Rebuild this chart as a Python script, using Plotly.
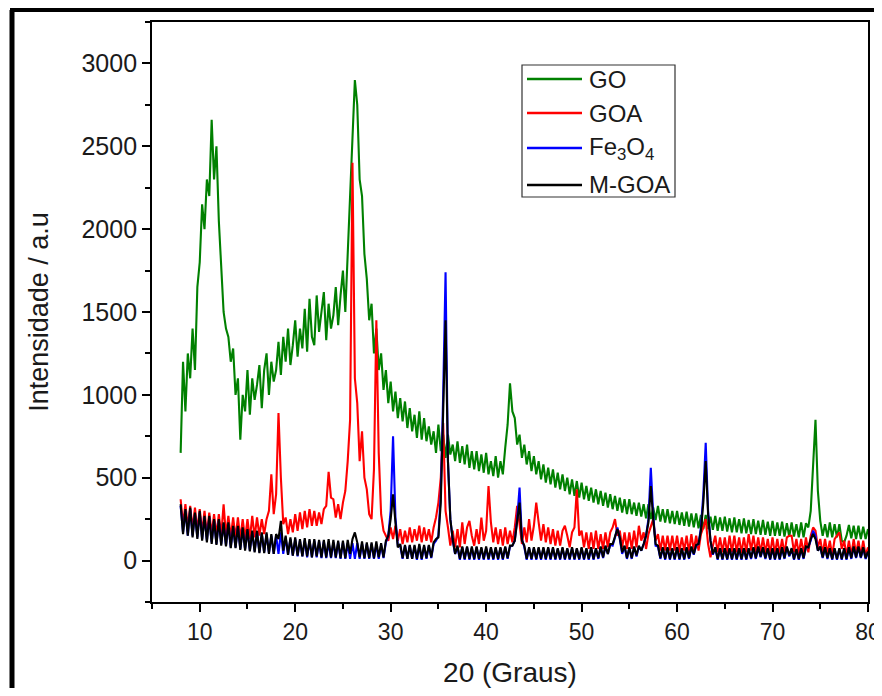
import plotly.graph_objects as go

# 2-theta grid: 8.00 .. 80.00 deg, step 0.25 deg
theta_start = 8.0
theta_step = 0.25

# Intensities (one row per degree: .00 .25 .50 .75)
go_vals = [
    650, 1200, 900, 1250,
    1100, 1400, 1150, 1650,
    1800, 2150, 2000, 2300,
    2200, 2660, 2300, 2500,
    2050, 1800, 1500, 1400,
    1350, 1200, 1280, 1000,
    1100, 730, 1000, 900,
    1150, 880, 1100, 970,
    1060, 1180, 920, 1150,
    1250, 1000, 1200, 1080,
    1150, 1320, 1120, 1350,
    1200, 1400, 1180, 1300,
    1450, 1230, 1400, 1280,
    1520, 1260, 1580, 1350,
    1300, 1600, 1380, 1500,
    1620, 1330, 1550, 1400,
    1480, 1650, 1420, 1600,
    1750, 1500, 1900, 2200,
    2550, 2900, 2750, 2300,
    2200, 1850, 1700, 1450,
    1550, 1250, 1400, 1150,
    1250, 1030, 1150, 950,
    1080, 900, 1020, 860,
    980, 840, 960, 800,
    920, 780, 880, 740,
    900, 730, 860, 720,
    810, 700, 780, 650,
    820, 660, 760, 620,
    760, 640, 700, 600,
    720, 590, 690, 580,
    700, 560, 660, 550,
    660, 540, 640, 530,
    650, 520, 600, 510,
    630, 500, 600, 520,
    680, 820, 1070, 900,
    860, 700, 760, 620,
    700, 580, 660, 540,
    630, 520, 600, 490,
    580, 470, 560, 460,
    550, 440, 530, 430,
    520, 420, 500, 400,
    490, 390, 480, 380,
    470, 370, 450, 360,
    440, 350, 430, 340,
    420, 330, 410, 320,
    400, 310, 390, 300,
    380, 290, 370, 280,
    370, 280, 350, 270,
    350, 265, 340, 255,
    340, 250, 320, 245,
    330, 235, 310, 230,
    310, 225, 300, 220,
    300, 215, 290, 210,
    295, 205, 285, 200,
    285, 195, 275, 190,
    275, 190, 265, 185,
    270, 180, 260, 180,
    265, 175, 255, 170,
    260, 170, 250, 165,
    255, 165, 245, 160,
    250, 160, 240, 155,
    245, 155, 235, 150,
    240, 150, 230, 150,
    235, 145, 225, 145,
    230, 145, 220, 140,
    230, 140, 225, 200,
    300, 560, 850, 420,
    240, 150, 220, 140,
    230, 140, 220, 140,
    220, 120, 110, 150,
    215, 135, 210, 130,
    210, 130, 205, 130,
    190,
]

goa_vals = [
    370, 220, 340, 200,
    330, 190, 320, 180,
    310, 170, 300, 160,
    290, 160, 280, 150,
    280, 150, 340, 150,
    270, 140, 260, 135,
    260, 130, 250, 130,
    250, 130, 270, 140,
    260, 150, 250, 160,
    250, 300, 520, 280,
    400, 890, 500, 220,
    260, 160, 250, 170,
    280, 180, 290, 190,
    300, 200, 310, 210,
    300, 210, 290, 220,
    310, 330, 535, 380,
    370, 260, 340, 250,
    350, 420, 600, 850,
    2400, 1100, 950, 600,
    780, 500, 430, 280,
    250, 550, 1450, 650,
    280, 180, 150, 120,
    200, 130, 210, 120,
    190, 100, 180, 110,
    200, 110, 190, 120,
    210, 110, 200, 120,
    190, 110, 200, 260,
    350, 500, 830, 300,
    200, 90, 180, 80,
    190, 80, 230, 100,
    200, 240, 150, 90,
    190, 100, 260, 120,
    180, 450, 230, 110,
    200, 100, 190, 90,
    200, 100, 180, 110,
    200, 330, 220, 100,
    200, 110, 250, 120,
    210, 350, 230, 120,
    220, 110, 200, 100,
    190, 90, 180, 90,
    180, 210, 150, 80,
    170, 200, 430, 150,
    180, 80, 170, 70,
    170, 70, 180, 70,
    160, 70, 170, 80,
    170, 200, 250, 150,
    180, 80, 170, 70,
    170, 70, 180, 80,
    210, 120, 170, 70,
    160, 200, 250, 120,
    160, 60, 150, 60,
    150, 60, 150, 60,
    150, 50, 140, 60,
    150, 50, 160, 60,
    150, 60, 160, 200,
    250, 100, 20, 90,
    150, 50, 140, 50,
    140, 45, 150, 50,
    150, 50, 140, 45,
    140, 50, 160, 60,
    150, 50, 140, 45,
    140, 45, 130, 40,
    140, 40, 130, 40,
    130, 40, 140, 150,
    150, 50, 130, 40,
    130, 40, 140, 50,
    150, 200, 180, 80,
    130, 40, 130, 40,
    120, 30, 130, 150,
    170, 70, 120, 30,
    120, 30, 130, 40,
    120, 30, 120, 30,
    80,
]

fe3o4_vals = [
    330, 170, 300, 150,
    310, 150, 280, 140,
    290, 130, 260, 120,
    260, 110, 240, 100,
    240, 100, 220, 90,
    220, 80, 200, 80,
    200, 70, 190, 70,
    180, 60, 170, 55,
    170, 50, 160, 50,
    160, 45, 150, 40,
    150, 40, 170, 40,
    140, 35, 130, 30,
    130, 25, 120, 25,
    125, 20, 120, 20,
    120, 20, 115, 15,
    115, 15, 110, 15,
    110, 15, 110, 10,
    110, 10, 105, 10,
    105, 10, 105, 10,
    100, 10, 100, 10,
    100, 10, 95, 10,
    95, 15, 110, 150,
    300, 750, 260, 90,
    90, 10, 90, 10,
    90, 10, 85, 5,
    90, 5, 85, 10,
    90, 15, 100, 120,
    150, 400, 1000, 1740,
    600, 250, 120, 40,
    80, 5, 80, 5,
    80, 5, 75, 5,
    80, 5, 75, 5,
    75, 5, 75, 5,
    75, 5, 75, 5,
    80, 10, 85, 90,
    120, 250, 440, 130,
    80, 5, 75, 5,
    75, 5, 75, 5,
    75, 5, 75, 5,
    75, 5, 70, 5,
    75, 5, 70, 5,
    75, 5, 70, 5,
    75, 5, 70, 5,
    75, 5, 70, 10,
    80, 15, 85, 40,
    95, 90, 140, 200,
    130, 40, 85, 10,
    75, 10, 80, 25,
    85, 60, 100, 150,
    250, 560, 280, 90,
    85, 10, 75, 5,
    75, 5, 70, 5,
    75, 5, 70, 5,
    75, 10, 80, 35,
    90, 100, 200, 400,
    710, 300, 120, 35,
    75, 5, 70, 5,
    70, 5, 70, 5,
    70, 5, 70, 5,
    70, 5, 70, 10,
    75, 10, 80, 20,
    75, 10, 70, 5,
    70, 5, 70, 5,
    75, 10, 80, 25,
    70, 5, 65, 5,
    70, 10, 80, 80,
    120, 180, 150, 60,
    80, 15, 75, 10,
    70, 5, 70, 5,
    70, 5, 70, 5,
    75, 10, 80, 15,
    80, 15, 75, 10,
    50,
]

mgoa_vals = [
    340, 160, 310, 150,
    320, 140, 290, 130,
    300, 120, 270, 110,
    270, 100, 250, 95,
    250, 90, 230, 85,
    230, 75, 210, 75,
    210, 65, 200, 60,
    190, 55, 180, 50,
    180, 45, 170, 45,
    170, 40, 160, 40,
    160, 130, 240, 60,
    150, 35, 140, 30,
    140, 30, 130, 25,
    135, 25, 130, 20,
    130, 25, 125, 20,
    125, 20, 130, 20,
    125, 20, 120, 15,
    120, 15, 125, 40,
    130, 170, 110, 20,
    115, 15, 110, 15,
    110, 15, 115, 20,
    105, 20, 120, 150,
    250, 400, 230, 80,
    100, 15, 95, 10,
    95, 10, 95, 10,
    100, 10, 95, 15,
    95, 20, 110, 130,
    140, 350, 900, 1450,
    600, 250, 130, 40,
    90, 10, 85, 10,
    85, 10, 85, 10,
    85, 10, 80, 10,
    85, 10, 80, 10,
    80, 10, 80, 10,
    85, 15, 90, 90,
    120, 220, 350, 120,
    90, 10, 80, 10,
    80, 10, 80, 10,
    80, 10, 80, 10,
    80, 10, 75, 10,
    80, 10, 75, 10,
    80, 10, 75, 10,
    80, 10, 75, 10,
    80, 10, 75, 15,
    85, 20, 90, 40,
    100, 100, 150, 190,
    140, 50, 90, 15,
    80, 15, 85, 30,
    90, 60, 100, 150,
    230, 450, 250, 100,
    90, 15, 80, 10,
    80, 10, 75, 10,
    80, 10, 75, 10,
    80, 15, 85, 40,
    95, 100, 180, 350,
    600, 280, 120, 40,
    80, 10, 75, 10,
    75, 10, 75, 10,
    75, 10, 75, 10,
    75, 10, 75, 15,
    80, 15, 85, 25,
    80, 15, 75, 10,
    75, 10, 75, 10,
    80, 15, 85, 30,
    75, 10, 70, 10,
    75, 15, 85, 80,
    130, 160, 130, 60,
    85, 20, 80, 15,
    75, 10, 75, 10,
    75, 10, 75, 10,
    80, 15, 85, 20,
    85, 20, 80, 15,
    55,
]

series_names = ["GO", "GOA", "Fe<sub>3</sub>O<sub>4</sub>", "M-GOA"]
series_vals = [go_vals, goa_vals, fe3o4_vals, mgoa_vals]
series_colors = ["#008000", "#FF0000", "#0000FF", "#000000"]

x_ticks = [10, 20, 30, 40, 50, 60, 70, 80]
y_ticks = [0, 500, 1000, 1500, 2000, 2500, 3000]

FONT = "Liberation Sans, Arial, sans-serif"
TXT = "#1a1a1a"

fig = go.Figure()
for name, vals, col in zip(series_names, series_vals, series_colors):
    xs = [theta_start + theta_step * k for k in range(len(vals))]
    fig.add_trace(go.Scatter(
        x=xs, y=vals, mode="lines", name=name,
        line=dict(color=col, width=2.1), showlegend=False,
    ))

# figure sits 8px inside the page (body margin); keep page within 882x696
OFF = 8
W, H = 866, 680
ml, mr, mt, mb = 144, 6, 14, 86
pw, ph = W - ml - mr, H - mt - mb

def px(page_x):
    return (page_x - OFF - ml) / pw

def py(page_y):
    return 1 - (page_y - OFF - mt) / ph

shapes = [
    # outer frame (left and top edges visible)
    dict(type="line", xref="paper", yref="paper", x0=px(12), y0=py(10), x1=px(12), y1=py(720),
         line=dict(color="black", width=5)),
    dict(type="line", xref="paper", yref="paper", x0=px(10), y0=py(10), x1=px(900), y1=py(10),
         line=dict(color="black", width=4)),
    # legend box
    dict(type="rect", xref="paper", yref="paper", x0=px(522), y0=py(197), x1=px(675), y1=py(65),
         fillcolor="white", line=dict(color="#333333", width=1.2)),
]
annotations = []
legend_y = [79, 113, 148, 185]
for name, col, ly in zip(series_names, series_colors, legend_y):
    shapes.append(dict(type="line", xref="paper", yref="paper",
                       x0=px(527), x1=px(582), y0=py(ly), y1=py(ly),
                       line=dict(color=col, width=2.5)))
    annotations.append(dict(xref="paper", yref="paper", x=px(587), y=py(ly),
                            text=name, showarrow=False, xanchor="left", yanchor="middle",
                            font=dict(family=FONT, size=24, color=TXT)))

fig.update_layout(
    width=W, height=H,
    margin=dict(l=ml, r=mr, t=mt, b=mb, autoexpand=False),
    paper_bgcolor="white", plot_bgcolor="white",
    font=dict(family=FONT, color=TXT),
    showlegend=False,
    xaxis=dict(
        range=[5, 80], tickvals=x_ticks,
        ticks="outside", ticklen=8, tickwidth=1.5, tickcolor="black",
        minor=dict(dtick=5, tick0=0, ticks="outside", ticklen=5, tickwidth=1.5, tickcolor="black"),
        showline=True, linecolor="black", linewidth=1.8, mirror=True,
        showgrid=False, zeroline=False, automargin=False,
        ticklabeloverflow="allow",
        tickfont=dict(family=FONT, size=23, color=TXT),
        title=dict(text="20 (Graus)", font=dict(family=FONT, size=28, color=TXT), standoff=25),
    ),
    yaxis=dict(
        range=[-250, 3250], tickvals=y_ticks,
        ticks="outside", ticklen=8, tickwidth=1.5, tickcolor="black",
        minor=dict(dtick=250, tick0=0, ticks="outside", ticklen=5, tickwidth=1.5, tickcolor="black"),
        showline=True, linecolor="black", linewidth=1.8, mirror=True,
        showgrid=False, zeroline=False,
        tickfont=dict(family=FONT, size=25, color=TXT),
        title=dict(text="Intensidade / a.u", font=dict(family=FONT, size=27, color=TXT), standoff=25),
    ),
    shapes=shapes,
    annotations=annotations,
)

fig.write_html("out.html")
